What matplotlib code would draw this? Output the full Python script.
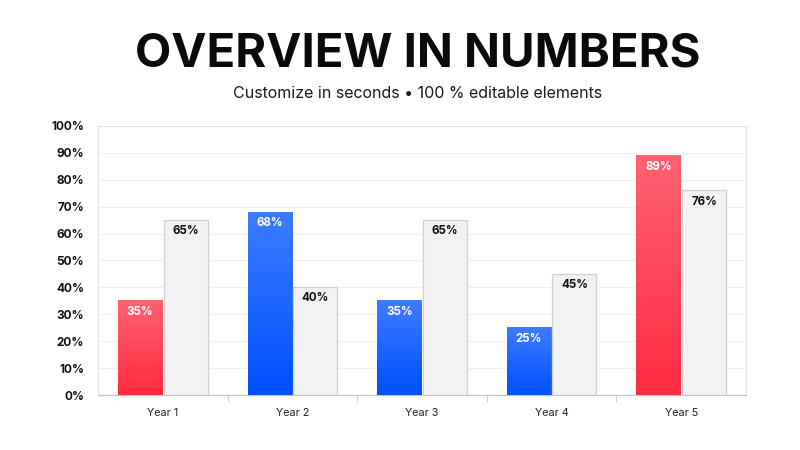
import numpy as np
import matplotlib
matplotlib.use('Agg')
import matplotlib.pyplot as plt
from matplotlib.colors import LinearSegmentedColormap

# data
years = ['Year 1', 'Year 2', 'Year 3', 'Year 4', 'Year 5']
main_vals = [35, 68, 35, 25, 89]
main_kind = ['red', 'blue', 'blue', 'blue', 'red']
grey_vals = [65, 40, 65, 45, 76]
y_ticks = [0, 10, 20, 30, 40, 50, 60, 70, 80, 90, 100]

TITLE = 'OVERVIEW IN NUMBERS'
SUBTITLE = 'Customize in seconds \u2022 100 % editable elements'

GRAD = {
    'red': LinearSegmentedColormap.from_list('r', ['#ff2b42', '#ff6272']),
    'blue': LinearSegmentedColormap.from_list('b', ['#0050ff', '#3d7bff']),
}
GREY_FILL = '#f2f1f4'
GREY_EDGE = '#cfcfd4'
FONT = 'Inter'

fig = plt.figure(figsize=(8, 4.5), dpi=100)
fig.patch.set_facecolor('white')
ax = fig.add_axes([0.1225, 0.1222, 0.81, 0.598])

W = 0.34
GAP = 0.012
x = np.arange(len(years))
grad = np.linspace(0, 1, 256).reshape(-1, 1)

# coloured bars with vertical gradient
for i, (v, k) in enumerate(zip(main_vals, main_kind)):
    x0 = x[i] - GAP / 2 - W
    ax.imshow(grad, cmap=GRAD[k], origin='lower', aspect='auto',
              extent=(x0, x0 + W, 0, v), zorder=3)
    ax.text(x0 + W / 2, v - 1.9, f'{v}%', ha='center', va='top', color='white',
            fontsize=8.3, fontweight='bold', family=FONT, zorder=5)

# grey comparison bars
ax.bar(x + GAP / 2, grey_vals, width=W, align='edge', color=GREY_FILL,
       edgecolor=GREY_EDGE, linewidth=0.9, zorder=3)
for i, v in enumerate(grey_vals):
    ax.text(x[i] + GAP / 2 + W / 2, v - 1.9, f'{v}%', ha='center', va='top',
            color='#111111', fontsize=8.3, fontweight='bold', family=FONT, zorder=5)

ax.set_xlim(-0.5, len(years) - 0.5)
ax.set_ylim(0, 100)
ax.set_yticks(y_ticks)
ax.set_yticklabels([f'{t}%' for t in y_ticks], fontsize=8.5, fontweight='bold',
                   family=FONT, color='#111111')
ax.set_xticks(x)
ax.set_xticklabels(years, fontsize=7.8, family=FONT, color='#222222')
ax.set_xticks(np.arange(0.5, len(years) - 0.5, 1), minor=True)
ax.tick_params(axis='x', which='major', length=0, pad=9)
ax.tick_params(axis='x', which='minor', length=5, color='#cfcfd4', width=0.8)
ax.tick_params(axis='y', length=0, pad=10)

ax.grid(axis='y', color='#f0f0f3', linewidth=0.8, zorder=0)
for s in ['left', 'right', 'top']:
    ax.spines[s].set_color('#e2e2e6')
    ax.spines[s].set_linewidth(0.8)
ax.spines['bottom'].set_color('#c4c4c9')
ax.spines['bottom'].set_linewidth(0.9)

fig.text(0.522, 0.878, TITLE, ha='center', va='center', fontsize=34,
         fontweight='bold', family=FONT, color='#0a0a0a')
fig.text(0.522, 0.792, SUBTITLE, ha='center', va='center', fontsize=11.5,
         family=FONT, color='#1a1a1a')

fig.savefig('out.png', dpi=100)
